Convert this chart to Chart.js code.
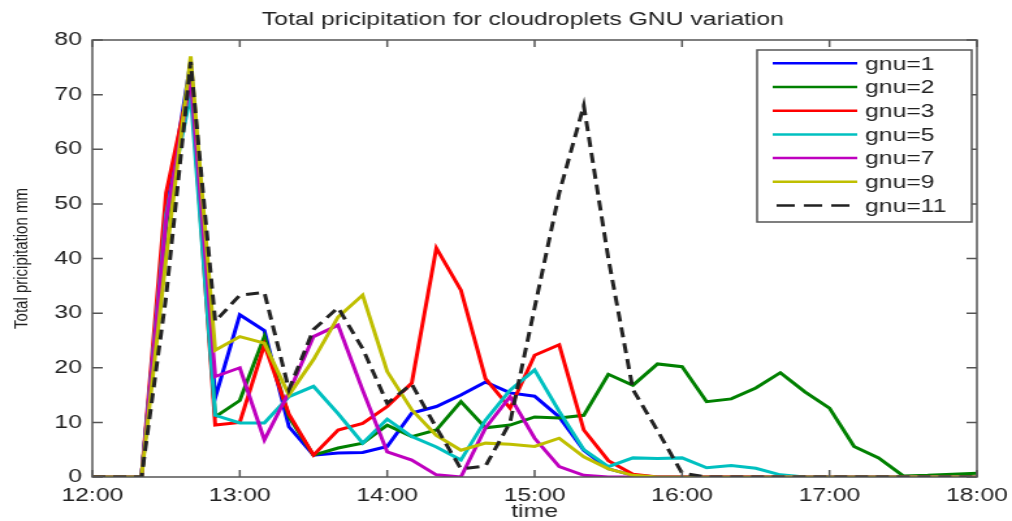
<!DOCTYPE html>
<html>
<head>
  <title>Total pricipitation</title>
  <style>
    body { margin: 0; background: #fff; overflow: hidden; }
    #wrap { width: 1012px; height: 521px; overflow: hidden; }
    /* figure is drawn narrow and stretched sideways */
    canvas { display: block; transform-origin: 0 0; transform: scaleX(1.3008); }
  </style>
</head>
<body>
<div id="wrap"><canvas id="rainChart" width="778" height="521" style="width:778px;height:521px"></canvas></div>

<script src="https://cdn.jsdelivr.net/npm/chart.js"></script>
<script>
  const times = ['12:00','12:10','12:20','12:30','12:40','12:50',
                 '13:00','13:10','13:20','13:30','13:40','13:50',
                 '14:00','14:10','14:20','14:30','14:40','14:50',
                 '15:00','15:10','15:20','15:30','15:40','15:50',
                 '16:00','16:10','16:20','16:30','16:40','16:50',
                 '17:00','17:10','17:20','17:30','17:40','17:50','18:00'];
  const tickTimes = ['12:00','13:00','14:00','15:00','16:00','17:00','18:00'];

  // total precipitation (mm) every 10 minutes
  const gnu1  = [0,0,0,48,76,14.5,29.7,26.8,9.2,4,4.4,4.5,5.6,11.7,12.9,15,17.4,15.4,14.8,11,4.9,1.5,0.3,0,0,0,0,0,0,0,0,0,0,0,0,0,0];
  const gnu2  = [0,0,0,46,75,11,14,25.7,11,4,5.3,6.2,9.5,7.4,8.6,13.8,9,9.5,11,10.8,11.3,18.8,16.8,20.7,20.2,13.8,14.3,16.3,19.1,15.6,12.6,5.6,3.5,0.2,0.3,0.5,0.7];
  const gnu3  = [0,0,0,52,73,9.5,10,24.2,11.5,4,8.6,9.8,12.9,17.2,41.9,34.2,18,12.6,22.3,24.2,8.6,3,0.5,0,0,0,0,0,0,0,0,0,0,0,0,0,0];
  const gnu5  = [0,0,0,48,70,11.3,9.9,9.9,14.7,16.6,11.6,6.2,10.6,7.4,5.5,3.1,10.4,15.9,19.6,12,5,1.9,3.5,3.4,3.5,1.7,2.1,1.6,0.4,0,0,0,0,0,0,0,0];
  const gnu7  = [0,0,0,47,73,18.4,20,6.8,15.5,25.7,27.8,15.9,4.6,3.1,0.4,0,9,14.7,7.1,1.9,0.3,0,0,0,0,0,0,0,0,0,0,0,0,0,0,0,0];
  const gnu9  = [0,0,0,40,77,23.2,25.7,24.5,15,21.5,29.3,33.3,19.3,12.3,7.6,4.9,6.2,6,5.6,7.1,3.7,1.5,0.3,0,0,0,0,0,0,0,0,0,0,0,0,0,0];
  const gnu11 = [0,0,0,33,76,28.5,33.3,33.8,16,27,31,23.5,13.5,17,9,1.5,2,10,31,52,68,40,16,8.5,0.7,0,0,0,0,0,0,0,0,0,0,0,0];

  const seriesNames = ['gnu=1','gnu=2','gnu=3','gnu=5','gnu=7','gnu=9','gnu=11'];
  const seriesData = [gnu1, gnu2, gnu3, gnu5, gnu7, gnu9, gnu11];
  const seriesColors = ['#0000ff','#008000','#ff0000','#00c0c0','#bf00bf','#bfbf00','#222222'];
  const dashed = [null, null, null, null, null, null, [10, 6]];

  const FONT = '"Liberation Sans", Arial, sans-serif';

  // MATLAB style box with inward ticks on every side
  const boxPlugin = {
    id: 'box',
    afterDatasetsDraw(chart) {
      const {ctx, chartArea: a, scales: {x, y}} = chart;
      ctx.save();
      ctx.strokeStyle = '#555';
      ctx.lineWidth = 1.5;
      ctx.strokeRect(a.left, a.top, a.right - a.left, a.bottom - a.top);
      ctx.beginPath();
      y.ticks.forEach(t => {
        const py = y.getPixelForValue(t.value);
        ctx.moveTo(a.left, py); ctx.lineTo(a.left + 8, py);
        ctx.moveTo(a.right, py); ctx.lineTo(a.right - 8, py);
      });
      tickTimes.forEach(t => {
        const px = x.getPixelForValue(times.indexOf(t));
        ctx.moveTo(px, a.bottom); ctx.lineTo(px, a.bottom - 7);
        ctx.moveTo(px, a.top); ctx.lineTo(px, a.top + 7);
      });
      ctx.stroke();
      ctx.restore();
    }
  };

  // legend box in the upper right corner of the axes
  const legendPlugin = {
    id: 'boxLegend',
    afterDraw(chart) {
      const {ctx, chartArea: a} = chart;
      const right = a.right - 4, left = right - 165;
      const top = a.top + 10, rowH = 23.7;
      ctx.save();
      ctx.fillStyle = '#fff';
      ctx.fillRect(left, top, right - left, 172);
      ctx.strokeStyle = '#555';
      ctx.lineWidth = 1.5;
      ctx.strokeRect(left, top, right - left, 172);
      ctx.font = '19px ' + FONT;
      ctx.textBaseline = 'middle';
      seriesNames.forEach((name, i) => {
        const cy = top + 13.3 + i * rowH;
        ctx.strokeStyle = seriesColors[i];
        ctx.lineWidth = 2.5;
        ctx.setLineDash(dashed[i] ? [14, 7] : []);
        ctx.beginPath();
        ctx.moveTo(left + (dashed[i] ? 15 : 12), cy);
        ctx.lineTo(left + 77, cy);
        ctx.stroke();
        ctx.setLineDash([]);
        ctx.fillStyle = '#222';
        ctx.fillText(name, left + 83, cy + 1);
      });
      ctx.restore();
    }
  };

  new Chart(document.getElementById('rainChart'), {
    type: 'line',
    data: {
      labels: times,
      datasets: seriesData.map((d, i) => ({
        label: seriesNames[i],
        data: d,
        borderColor: seriesColors[i],
        borderWidth: 3,
        borderDash: dashed[i] || [],
        pointRadius: 0,
        tension: 0,
        fill: false,
        order: seriesData.length - i
      }))
    },
    options: {
      responsive: false,
      animation: false,
      devicePixelRatio: 1,
      layout: { padding: { top: 40, right: 27, left: 0, bottom: 0 } },
      plugins: {
        legend: { display: false },
        tooltip: { enabled: false },
        title: { display: false }
      },
      scales: {
        x: {
          type: 'category',
          grid: { display: false, drawTicks: false },
          border: { display: false },
          ticks: {
            autoSkip: false,
            maxRotation: 0,
            padding: 7,
            color: '#222',
            font: { family: FONT, size: 19 },
            callback: (v, i) => tickTimes.includes(times[i]) ? times[i] : null
          },
          title: {
            display: true, text: 'time', color: '#222', padding: 0,
            font: { family: FONT, size: 19, lineHeight: 1 }
          },
          // last label may hang into the right padding
          afterFit: s => { s.height = 44; s.paddingRight = 0; }
        },
        y: {
          min: 0, max: 80,
          grid: { display: false, drawTicks: false },
          border: { display: false },
          ticks: {
            stepSize: 10,
            padding: 8,
            color: '#222',
            font: { family: FONT, size: 19 }
          },
          title: {
            display: true, text: 'Total pricipitation mm', color: '#222',
            padding: { top: 8, bottom: 0 },
            font: { family: FONT, size: 15 }
          },
          afterFit: s => { s.width = 71; }
        }
      }
    },
    plugins: [boxPlugin, legendPlugin, {
      id: 'topTitle',
      afterDraw(chart) {
        const {ctx, chartArea: a} = chart;
        ctx.save();
        ctx.font = '19px ' + FONT;
        ctx.fillStyle = '#222';
        ctx.textAlign = 'center';
        ctx.textBaseline = 'middle';
        ctx.fillText('Total pricipitation for cloudroplets GNU variation', (a.left + a.right) / 2 - 9, 20);
        ctx.restore();
      }
    }]
  });
</script>
</body>
</html>
